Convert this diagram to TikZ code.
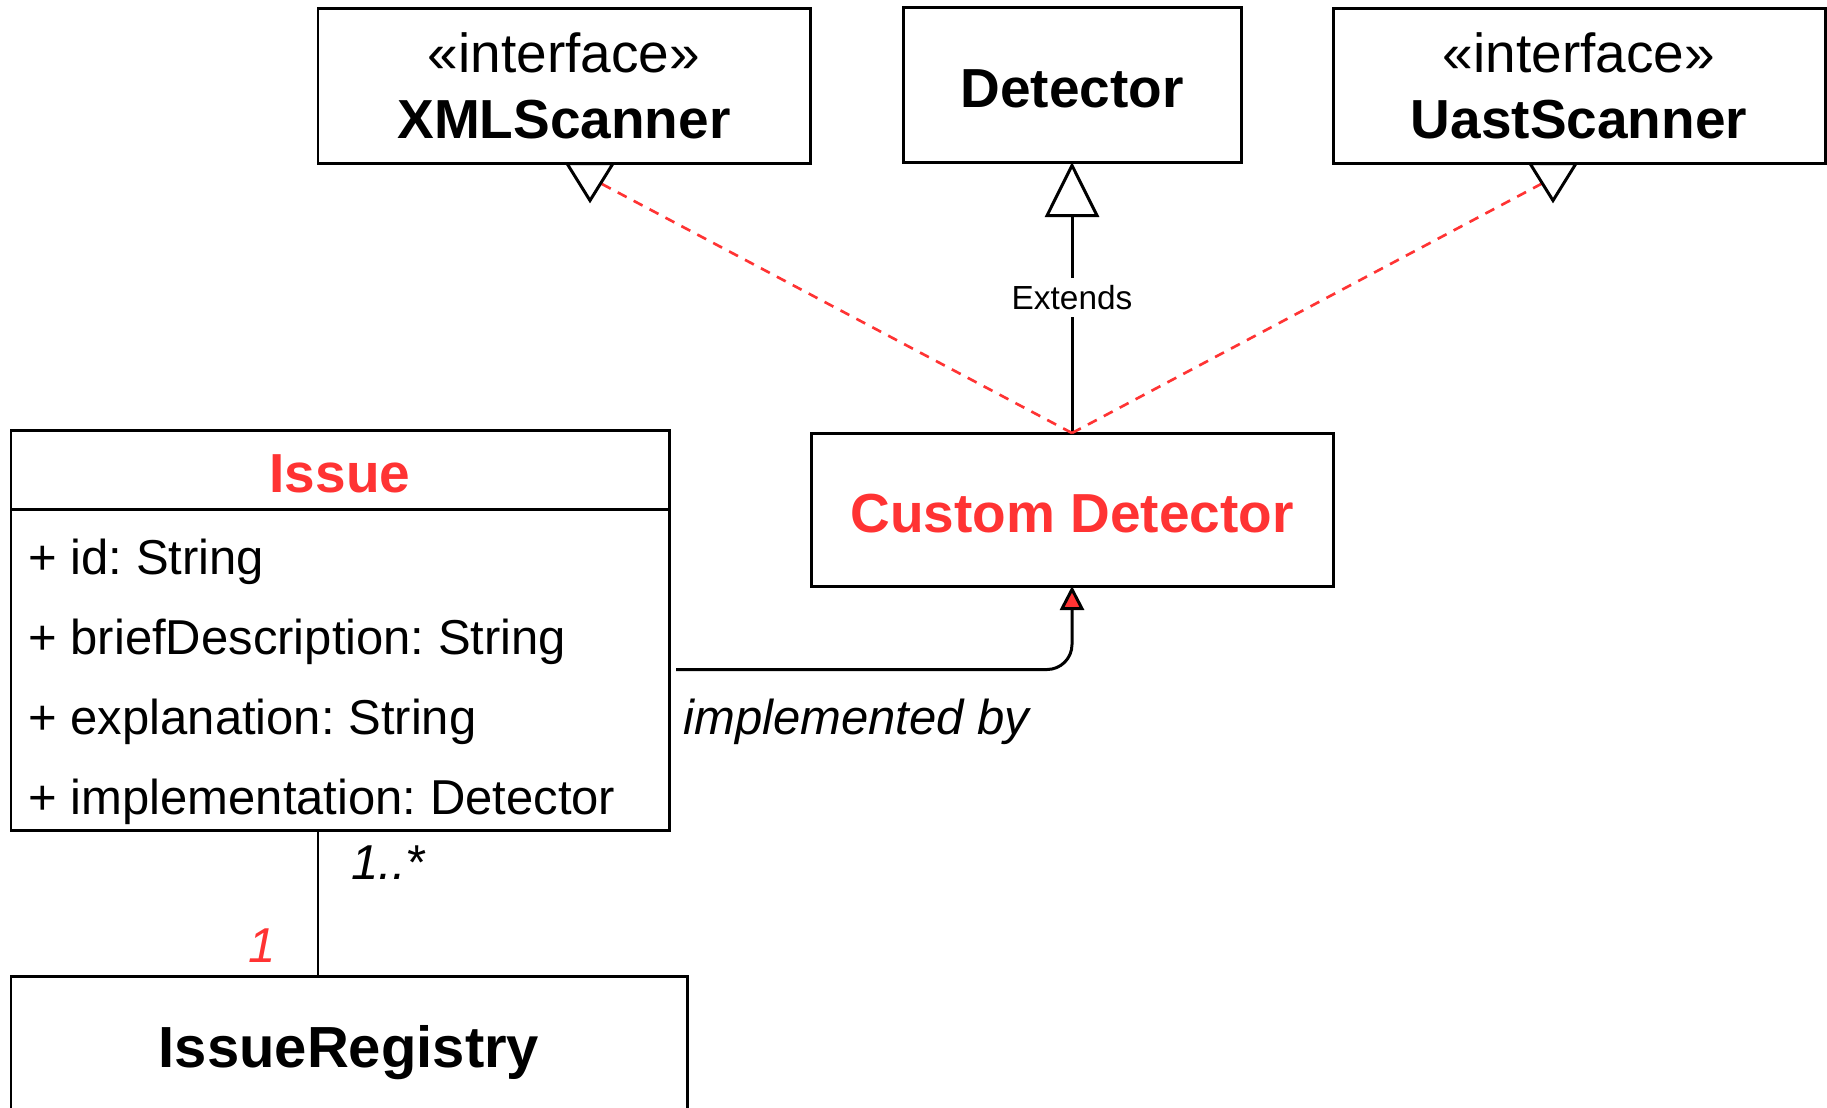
\documentclass[tikz,border=0pt]{standalone}
\usepackage{fontspec}
\setmainfont{Liberation Sans}
\usetikzlibrary{positioning, arrows.meta}
\definecolor{accent}{HTML}{FF3333}
\frenchspacing

\begin{document}
\begin{tikzpicture}
[
line width=0.85pt,
box/.style={rectangle, draw=black, fill=white, align=center, inner sep=0pt, outer sep=0pt, minimum height=1.55cm, font=\fontsize{15.65}{18.8}\selectfont},
namebox/.style={box, text height=0.46cm, text depth=0pt, font=\fontsize{15.65}{18.8}\selectfont\bfseries},
attr/.style={align=left, inner sep=0pt, font=\fontsize{13.94}{22.76}\selectfont},
mult/.style={inner sep=0pt, font=\fontsize{13.94}{16}\selectfont\itshape},
realize/.style={draw=accent, line width=0.75pt, dash pattern=on 0.1cm off 0.08cm},
hollow/.style={draw=black, fill=white},
]
\clip (0,0) rectangle (18.27,-11.07);

\node [box, minimum width=4.92cm] (xml) at (5.64,-0.86) {«interface»\\\textbf{XMLScanner}};
\node [namebox, minimum width=3.38cm] (detector) at (10.72,-0.845) {Detector};
\node [box, minimum width=4.92cm] (uast) at (15.79,-0.86) {«interface»\\\textbf{UastScanner}};

\node [namebox, minimum width=5.22cm, minimum height=1.53cm, text=accent] (custom) at (10.72,-5.095) {Custom Detector};

\node [namebox, minimum width=6.58cm, minimum height=0.79cm, text=accent] (issue) at (3.40,-4.695) {Issue};
\node [box, minimum width=6.58cm, minimum height=3.21cm, below=0pt of issue] (issuebody) {};
\node [attr, anchor=north west] (fields) at ([xshift=0.16cm, yshift=-0.285cm]issuebody.north west)
  {+ id: String\\+ briefDescription: String\\+ explanation: String\\+ implementation: Detector};

\node [box, minimum width=6.76cm, minimum height=1.54cm, font=\fontsize{16.5}{19}\selectfont\bfseries] (registry) at (3.49,-10.53) {IssueRegistry};

% generalization
\draw [-{Triangle[open, length=0.55cm, width=0.54cm]}] (custom.north) -- node[midway, fill=white, inner sep=2pt, font=\fontsize{9.5}{11}\selectfont] (extends) {Extends} (detector.south);

% realizations
\coordinate (xmlhead) at ([xshift=0.26cm]xml.south);
\coordinate (uasthead) at ([xshift=-0.26cm]uast.south);
\draw [realize] (custom.north) -- ([xshift=0.11cm, yshift=-0.20cm]xmlhead);
\draw [realize] (custom.north) -- ([xshift=-0.11cm, yshift=-0.20cm]uasthead);
\draw [hollow] ([xshift=-0.23cm]xmlhead) -- ([yshift=-0.37cm]xmlhead) -- ([xshift=0.23cm]xmlhead) -- cycle;
\draw [hollow] ([xshift=-0.23cm]uasthead) -- ([yshift=-0.37cm]uasthead) -- ([xshift=0.23cm]uasthead) -- cycle;

% issue -> detector
\draw [-{Triangle[length=0.24cm, width=0.24cm, fill=accent]}, rounded corners=0.25cm] ([xshift=0.07cm]issuebody.east) -| (custom.south);
\node [mult, anchor=base west] (implby) at (6.82,-7.34) {implemented by};

% registry association
\coordinate (assoc) at ([xshift=-0.22cm]issuebody.south);
\draw (assoc) -- (assoc |- registry.north);
\node [mult, anchor=base west] (many) at (3.50,-8.79) {1..*};
\node [mult, anchor=base, text=accent] (one) at (2.62,-9.62) {1};
\end{tikzpicture}
\end{document}
